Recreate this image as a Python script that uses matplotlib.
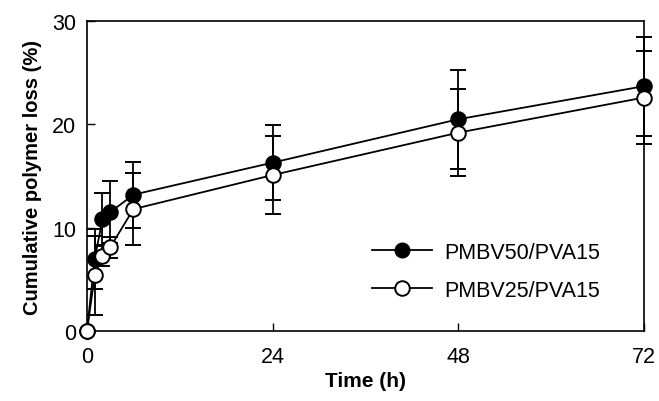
import matplotlib
matplotlib.use("Agg")
import matplotlib.pyplot as plt
from matplotlib.lines import Line2D

plt.rcParams['font.family'] = ['Liberation Sans', 'DejaVu Sans']

time_h = [0, 1, 2, 3, 6, 24, 48, 72]
pmbv50 = [0, 7.0, 10.8, 11.5, 13.2, 16.3, 20.5, 23.7]
pmbv50_err = [0, 2.9, 2.6, 3.0, 3.2, 3.6, 4.8, 4.8]
pmbv25 = [0, 5.4, 7.3, 8.1, 11.8, 15.1, 19.2, 22.6]
pmbv25_err = [0, 3.8, 1.0, 1.0, 3.5, 3.8, 4.2, 4.5]

labels = ["PMBV50/PVA15", "PMBV25/PVA15"]
xticks = [0, 24, 48, 72]
yticks = [0, 10, 20, 30]

fig = plt.figure(figsize=(6.59, 4.02), dpi=100)
ax = fig.add_axes([0.132, 0.174, 0.845, 0.771])

common = dict(color='black', lw=1.3, ms=10.5, mew=1.4, capsize=6, capthick=1.3,
              elinewidth=1.3, clip_on=False)
ax.errorbar(time_h, pmbv50, yerr=pmbv50_err, marker='o', mfc='black',
            mec='black', zorder=3, **common)
ax.errorbar(time_h, pmbv25, yerr=pmbv25_err, marker='o', mfc='white',
            mec='black', zorder=4, **common)

ax.set_xlim(0, 72)
ax.set_ylim(0, 30)
ax.set_xticks(xticks)
ax.set_yticks(yticks)
ax.tick_params(direction='in', length=6, width=1, labelsize=15.5)
ax.tick_params(axis='x', pad=11)
ax.tick_params(axis='y', pad=8)
for s in ax.spines.values():
    s.set_linewidth(1.2)

ax.set_xlabel("Time (h)", fontsize=15, fontweight='bold', labelpad=3)
ax.set_ylabel("Cumulative polymer loss (%)", fontsize=14.5, fontweight='bold', labelpad=7)

handles = [Line2D([], [], color='black', lw=1.3, marker='o', ms=10.5, mfc='black', mec='black'),
           Line2D([], [], color='black', lw=1.3, marker='o', ms=10.5, mfc='white', mec='black', mew=1.4)]
leg = ax.legend(handles, labels, loc='upper left', bbox_to_anchor=(0.477, 0.35),
                frameon=False, fontsize=15.5, handlelength=2.8, labelspacing=0.78,
                handletextpad=0.55)

fig.savefig("out.png", dpi=100)
